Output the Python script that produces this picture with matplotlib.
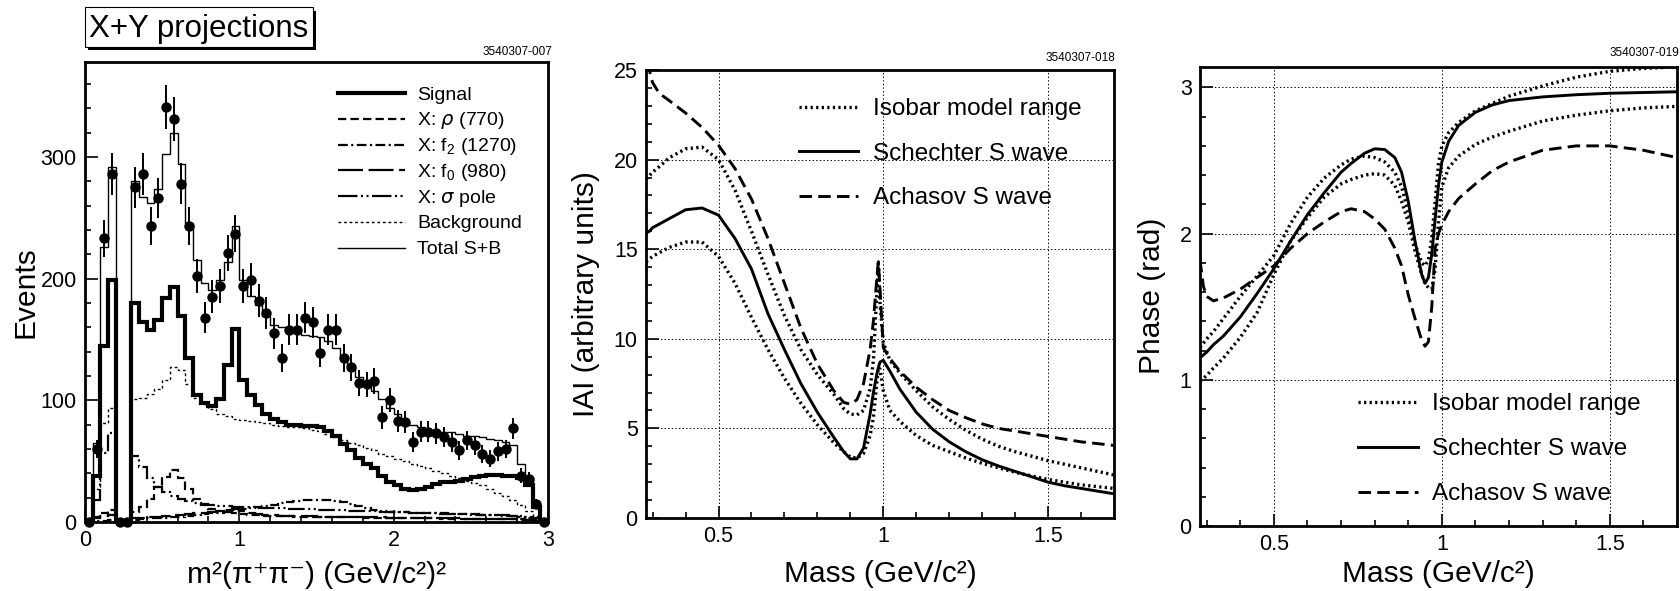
import numpy as np
import matplotlib
matplotlib.use('Agg')
from matplotlib import pyplot as plt
from matplotlib.lines import Line2D
from matplotlib.patches import Rectangle
from matplotlib.ticker import FixedLocator, MultipleLocator

plt.rcParams['font.family'] = ['Liberation Sans', 'DejaVu Sans']
plt.rcParams['mathtext.fontset'] = 'custom'
plt.rcParams['mathtext.rm'] = 'Liberation Sans'
plt.rcParams['lines.scale_dashes'] = False

W, H = 1680, 591

#--- left panel: m^2(pi+pi-) projection, 60 bins of 0.05 (GeV/c^2)^2
edges = np.linspace(0, 3, 61)
counts = [0, 60, 233, 286, 0, 0, 275, 286, 243, 266,
          341, 331, 278, 243, 202, 168, 185, 194, 221, 237,
          194, 199, 182, 172, 155, 135, 158, 158, 168, 164,
          139, 158, 158, 135, 127, 114, 113, 116, 86, 100,
          83, 82, 66, 74, 74, 73, 70, 66, 59, 67,
          63, 56, 52, 58, 60, 77, 38, 35, 15, 0]
total_sb = [0, 65, 226, 292, 0, 0, 280, 267, 262, 274,
            302, 320, 294, 246, 215, 196, 191, 199, 214, 243,
            199, 186, 178, 169, 162, 160, 157, 156, 154, 153,
            152, 149, 143, 135, 128, 119, 114, 108, 101, 94,
            89, 83, 80, 78, 76, 75, 74, 74, 72, 71,
            71, 70, 68, 67, 66, 63, 48, 36, 16, 1]
signal = [0, 38, 145, 199, 0, 0, 180, 164, 158, 166,
          184, 193, 169, 135, 104, 98, 95, 101, 129, 159,
          117, 104, 96, 89, 85, 82, 80, 80, 79, 79,
          78, 75, 71, 64, 59, 53, 48, 44, 38, 33,
          30, 27, 26, 27, 29, 31, 33, 33, 34, 35,
          37, 38, 39, 39, 38, 38, 36, 30, 12, 0]
background = [0, 27, 81, 94, 0, 0, 101, 102, 105, 109,
              117, 127, 125, 113, 102, 97, 93, 89, 87, 85,
              84, 83, 82, 81, 80, 79, 78, 78, 77, 76,
              75, 72, 70, 67, 65, 63, 61, 59, 56, 54,
              52, 50, 48, 46, 44, 42, 40, 38, 36, 34,
              32, 30, 27, 24, 21, 18, 14, 9, 5, 1]
rho770 = [0, 4, 7, 10, 0, 0, 8, 12, 19, 29,
          37, 43, 36, 27, 19, 14, 11, 9, 8, 7,
          6.5, 6, 5.6, 5.3, 5, 4.8, 4.6, 4.5, 4.4, 4.3,
          4.2, 4.1, 4, 3.9, 3.8, 3.7, 3.6, 3.5, 3.4, 3.3,
          3.2, 3.1, 3, 3, 2.9, 2.9, 2.8, 2.8, 2.7, 2.7,
          2.6, 2.6, 2.5, 2.5, 2.4, 2.3, 2, 1.5, 1, 0]
f2_1270 = [0, 0.5, 1, 1.5, 0, 0, 2, 2.5, 3, 3.3,
           3.6, 4, 4.5, 5, 5.5, 6.2, 7, 7.8, 8.6, 9.5,
           10.4, 11.3, 12.3, 13.3, 14.3, 15.3, 16.2, 17, 17.7, 18.2,
           18.4, 18.2, 17.5, 16.2, 14.5, 12.8, 11.2, 10, 9.2, 8.6,
           8.2, 7.9, 7.6, 7.4, 7.2, 7, 6.8, 6.6, 6.4, 6.2,
           6, 5.8, 5.6, 5.4, 5.2, 5, 4.5, 3.5, 2.5, 1]
f0_980 = [0, 3, 5, 6, 0, 0, 3, 3.5, 4, 4.5,
          5, 5.5, 6, 6.5, 7, 7.5, 8, 9, 10, 11,
          9, 7.5, 6.5, 6, 5.5, 5.2, 5, 4.8, 4.7, 4.6,
          4.5, 4.4, 4.3, 4.2, 4.1, 4, 3.9, 3.8, 3.7, 3.6,
          3.5, 3.4, 3.3, 3.2, 3.1, 3, 3, 2.9, 2.9, 2.8,
          2.8, 2.7, 2.7, 2.6, 2.6, 2.5, 2.2, 1.8, 1, 0]
sigma_pole = [0, 18, 57, 73, 0, 0, 54, 45, 36, 29,
              25, 21.5, 19, 17, 15.5, 14.5, 13.8, 13.2, 12.8, 12.5,
              12.2, 12, 11.8, 11.6, 11.4, 11.2, 11, 10.8, 10.6, 10.4,
              10.2, 10, 9.8, 9.6, 9.4, 9.2, 9, 8.8, 8.6, 8.4,
              8.2, 8, 7.8, 7.6, 7.4, 7.2, 7, 6.8, 6.6, 6.4,
              6.2, 6, 5.8, 5.6, 5.4, 5.2, 5, 4.5, 3.5, 1]

#--- middle panel: |A| vs mass
mass_amp = [0.28, 0.29, 0.30, 0.32, 0.35, 0.40, 0.45, 0.50, 0.55, 0.60,
            0.65, 0.70, 0.75, 0.80, 0.85, 0.88, 0.90, 0.92, 0.94, 0.96,
            0.97, 0.98, 0.985, 0.99, 1.00, 1.02, 1.05, 1.10, 1.15, 1.20,
            1.25, 1.30, 1.35, 1.40, 1.45, 1.50, 1.55, 1.60, 1.65, 1.70]
amp_schechter = [15.9, 16.0, 16.2, 16.4, 16.7, 17.2, 17.3, 16.9, 15.6, 13.9,
                 11.4, 9.4, 7.5, 5.9, 4.5, 3.7, 3.3, 3.3, 3.9, 5.8,
                 7.0, 8.0, 8.4, 8.7, 8.8, 8.2, 7.2, 5.9, 4.95, 4.25,
                 3.7, 3.25, 2.9, 2.6, 2.3, 2.0, 1.8, 1.65, 1.5, 1.35]
amp_iso_hi = [18.9, 19.1, 19.3, 19.6, 20.1, 20.6, 20.7, 20.0, 18.3, 16.0,
              13.6, 11.3, 9.4, 8.0, 6.9, 6.1, 5.8, 5.75, 6.0, 7.2,
              8.8, 12.5, 14.2, 12.0, 9.8, 8.8, 8.1, 7.1, 6.2, 5.5,
              4.9, 4.4, 4.0, 3.7, 3.45, 3.2, 3.0, 2.8, 2.6, 2.4]
amp_iso_lo = [14.3, 14.45, 14.6, 14.8, 15.1, 15.4, 15.4, 14.6, 13.1, 11.2,
              9.4, 7.8, 6.4, 5.2, 4.2, 3.7, 3.4, 3.35, 3.6, 4.6,
              5.6, 7.5, 8.4, 8.3, 7.1, 6.0, 5.4, 4.6, 4.05, 3.7,
              3.35, 3.05, 2.8, 2.55, 2.35, 2.15, 2.0, 1.85, 1.75, 1.65]
amp_achasov = [26.5, 25.0, 24.3, 23.7, 23.3, 22.6, 21.8, 20.8, 19.5, 17.8,
               15.6, 13.1, 10.6, 8.6, 7.1, 6.45, 6.35, 6.6, 7.5, 9.4,
               11.0, 13.3, 14.3, 12.8, 9.5, 8.9, 8.2, 7.3, 6.6, 6.0,
               5.6, 5.25, 5.0, 4.85, 4.7, 4.55, 4.4, 4.25, 4.15, 4.05]

#--- right panel: phase vs mass
mass_ph = [0.28, 0.29, 0.30, 0.32, 0.35, 0.40, 0.45, 0.50, 0.55, 0.60,
           0.65, 0.70, 0.73, 0.77, 0.80, 0.83, 0.86, 0.88, 0.90, 0.92,
           0.94, 0.95, 0.96, 0.97, 0.98, 0.99, 1.00, 1.02, 1.05, 1.10,
           1.15, 1.20, 1.30, 1.40, 1.50, 1.60, 1.70]
ph_schechter = [1.15, 1.17, 1.19, 1.24, 1.30, 1.43, 1.59, 1.76, 1.95, 2.13,
                2.28, 2.42, 2.48, 2.55, 2.58, 2.575, 2.52, 2.42, 2.22, 1.95,
                1.72, 1.66, 1.70, 1.86, 2.10, 2.33, 2.49, 2.63, 2.74, 2.83,
                2.88, 2.91, 2.935, 2.95, 2.96, 2.965, 2.97]
ph_iso_hi = [1.22, 1.25, 1.28, 1.33, 1.42, 1.57, 1.71, 1.85, 2.07, 2.25,
             2.38, 2.47, 2.51, 2.53, 2.52, 2.49, 2.42, 2.32, 2.15, 1.93,
             1.80, 1.78, 1.82, 1.97, 2.22, 2.48, 2.60, 2.69, 2.76, 2.84,
             2.89, 2.94, 3.01, 3.07, 3.11, 3.13, 3.14]
ph_iso_lo = [0.99, 1.01, 1.03, 1.08, 1.15, 1.29, 1.46, 1.72, 1.95, 2.11,
             2.25, 2.34, 2.37, 2.40, 2.41, 2.40, 2.33, 2.22, 2.08, 1.88,
             1.72, 1.66, 1.63, 1.62, 1.76, 2.08, 2.32, 2.45, 2.53, 2.61,
             2.66, 2.70, 2.77, 2.81, 2.84, 2.86, 2.87]
ph_achasov = [1.82, 1.64, 1.57, 1.54, 1.56, 1.62, 1.70, 1.78, 1.90, 2.00,
              2.08, 2.15, 2.17, 2.15, 2.10, 2.03, 1.90, 1.78, 1.58, 1.42,
              1.27, 1.23, 1.26, 1.50, 1.90, 2.00, 2.06, 2.15, 2.24, 2.34,
              2.43, 2.49, 2.57, 2.60, 2.60, 2.57, 2.52]


#helpers (pixel coords, y from top):
def fx(x): return x / W
def fy(y): return 1 - y / H
def axes_px(l, t, r, b):
    return [fx(l), fy(b), (r - l) / W, (b - t) / H]

DOT = (0, (1.6, 2.4))
DASH = (0, (9, 4.5))
GRID = (0, (1, 1.6))

fig = plt.figure(figsize=(W / 100, H / 100), dpi=100)

def style_axes(ax):
    for s in ax.spines.values():
        s.set_linewidth(2)
    ax.tick_params(which='both', direction='in', top=False, right=False,
                   labelsize=15.5, pad=6, width=1.2)
    ax.tick_params(which='major', length=9)
    ax.tick_params(which='minor', length=4.5)

def legend_row(x0, x1, xt, y, label, fs, off, **kw):
    fig.add_artist(Line2D([fx(x0), fx(x1)], [fy(y), fy(y)],
                          transform=fig.transFigure, **kw))
    fig.text(fx(xt), fy(y + off), label, fontsize=fs, ha='left', va='baseline')

#left panel
ax1 = fig.add_axes(axes_px(85, 62, 548, 522))
style_axes(ax1)
ax1.stairs(background, edges, baseline=0, color='k', lw=1, ls=(0, (2, 2)))
ax1.stairs(rho770, edges, baseline=0, color='k', lw=1.6, ls=(0, (6, 3)))
ax1.stairs(f2_1270, edges, baseline=0, color='k', lw=1.6, ls=(0, (7, 2.5, 1.5, 2.5)))
ax1.stairs(f0_980, edges, baseline=0, color='k', lw=1.6, ls=(0, (16, 4)))
ax1.stairs(sigma_pole, edges, baseline=0, color='k', lw=1.6,
           ls=(0, (12, 2.5, 1.5, 2.5, 1.5, 2.5)))
ax1.stairs(signal, edges, baseline=0, color='k', lw=3)
ax1.stairs(total_sb, edges, baseline=0, color='k', lw=1)
centers = 0.5 * (edges[:-1] + edges[1:])
cnt = np.array(counts, dtype=float)
ax1.errorbar(centers, cnt, yerr=np.sqrt(cnt), fmt='o', color='k', ms=6.5,
             elinewidth=1.4, capsize=0, clip_on=False, zorder=5)
ax1.set_xlim(0, 3)
ax1.set_ylim(0, 378)
ax1.xaxis.set_major_locator(FixedLocator([0, 1, 2, 3]))
ax1.set_xticklabels(['0', '1', '2', '3'])
ax1.xaxis.set_minor_locator(MultipleLocator(0.2))
ax1.yaxis.set_major_locator(FixedLocator([0, 100, 200, 300]))
ax1.set_yticklabels(['0', '100', '200', '300'])
ax1.yaxis.set_minor_locator(MultipleLocator(20))

rows1 = [(r'Signal', dict(lw=3, color='k')),
         (r'X: $\rho$ (770)', dict(lw=1.6, color='k', ls=(0, (6, 3)))),
         (r'X: f$_2$ (1270)', dict(lw=1.6, color='k', ls=(0, (7, 2.5, 1.5, 2.5)))),
         (r'X: f$_0$ (980)', dict(lw=1.6, color='k', ls=(0, (18, 4)))),
         (r'X: $\sigma$ pole', dict(lw=1.6, color='k', ls=(0, (14, 2.5, 1.5, 2.5, 1.5, 2.5)))),
         (r'Background', dict(lw=1, color='k', ls=(0, (2, 2)))),
         (r'Total S+B', dict(lw=1, color='k'))]
for i, (lab, kw) in enumerate(rows1):
    legend_row(338, 405, 417, 93 + 25.8 * i, lab, 14, 6.5, **kw)

fig.text(fx(316.5), fy(583), 'm²(π⁺π⁻) (GeV/c²)²', fontsize=21.5, ha='center', va='baseline')
fig.text(fx(34), fy(292), 'Events', fontsize=21.5, rotation=90,
         rotation_mode='anchor', ha='center', va='baseline')
fig.text(fx(552), fy(52), '3540307-007', fontsize=8.5, ha='right', va='center')

#title box with shadow
fig.add_artist(Rectangle((fx(88), fy(50)), (312.5 - 84.6) / W, (46.7 - 7.3) / H,
                         transform=fig.transFigure, facecolor='k', edgecolor='none'))
fig.add_artist(Rectangle((fx(84.6), fy(46.7)), (312.5 - 84.6) / W, (46.7 - 7.3) / H,
                         transform=fig.transFigure, facecolor='w', edgecolor='k', lw=0.8))
fig.text(fx(89), fy(36.5), 'X+Y projections', fontsize=22.5, ha='left', va='baseline')

#middle panel
ax2 = fig.add_axes(axes_px(646, 70, 1114, 518))
style_axes(ax2)
ax2.plot(mass_amp, amp_iso_hi, color='k', lw=2.4, ls=DOT)
ax2.plot(mass_amp, amp_iso_lo, color='k', lw=2.4, ls=DOT)
ax2.plot(mass_amp, amp_schechter, color='k', lw=2.1)
ax2.plot(mass_amp, amp_achasov, color='k', lw=2.1, ls=DASH)
ax2.set_xlim(0.28, 1.7)
ax2.set_ylim(0, 25)
ax2.xaxis.set_major_locator(FixedLocator([0.5, 1, 1.5]))
ax2.set_xticklabels(['0.5', '1', '1.5'])
ax2.xaxis.set_minor_locator(MultipleLocator(0.1))
ax2.yaxis.set_major_locator(FixedLocator([0, 5, 10, 15, 20, 25]))
ax2.set_yticklabels(['0', '5', '10', '15', '20', '25'])
ax2.yaxis.set_minor_locator(MultipleLocator(1))
ax2.grid(True, which='major', color='k', lw=0.7, ls=GRID)

rows2 = [('Isobar model range', dict(lw=2.4, color='k', ls=DOT)),
         ('Schechter S wave', dict(lw=2.1, color='k')),
         ('Achasov S wave', dict(lw=2.1, color='k', ls=DASH))]
for i, (lab, kw) in enumerate(rows2):
    legend_row(799, 858, 872.5, 107 + 44.5 * i, lab, 17.5, 8.5, **kw)

fig.text(fx(880), fy(582), 'Mass (GeV/c²)', fontsize=21.5, ha='center', va='baseline')
fig.text(fx(594), fy(294), 'IAI (arbitrary units)', fontsize=21.5, rotation=90,
         rotation_mode='anchor', ha='center', va='baseline')
fig.text(fx(1115), fy(57.7), '3540307-018', fontsize=8.5, ha='right', va='center')

#right panel
ax3 = fig.add_axes(axes_px(1200, 66.7, 1677, 526))
style_axes(ax3)
ax3.plot(mass_ph, ph_iso_hi, color='k', lw=2.4, ls=DOT)
ax3.plot(mass_ph, ph_iso_lo, color='k', lw=2.4, ls=DOT)
ax3.plot(mass_ph, ph_schechter, color='k', lw=2.1)
ax3.plot(mass_ph, ph_achasov, color='k', lw=2.1, ls=DASH)
ax3.set_xlim(0.28, 1.7)
ax3.set_ylim(0, np.pi)
ax3.xaxis.set_major_locator(FixedLocator([0.5, 1, 1.5]))
ax3.set_xticklabels(['0.5', '1', '1.5'])
ax3.xaxis.set_minor_locator(MultipleLocator(0.1))
ax3.yaxis.set_major_locator(FixedLocator([0, 1, 2, 3]))
ax3.set_yticklabels(['0', '1', '2', '3'])
ax3.yaxis.set_minor_locator(MultipleLocator(0.2))
ax3.grid(True, which='major', color='k', lw=0.7, ls=GRID)

for i, (lab, kw) in enumerate(rows2):
    legend_row(1357.5, 1418, 1432.5, 401.7 + 45 * i, lab, 17.5, 8.5, **kw)

fig.text(fx(1438.5), fy(582), 'Mass (GeV/c²)', fontsize=21.5, ha='center', va='baseline')
fig.text(fx(1159.5), fy(296), 'Phase (rad)', fontsize=21.5, rotation=90,
         rotation_mode='anchor', ha='center', va='baseline')
fig.text(fx(1679), fy(52.7), '3540307-019', fontsize=8.5, ha='right', va='center')

fig.savefig('out.png', dpi=100)
